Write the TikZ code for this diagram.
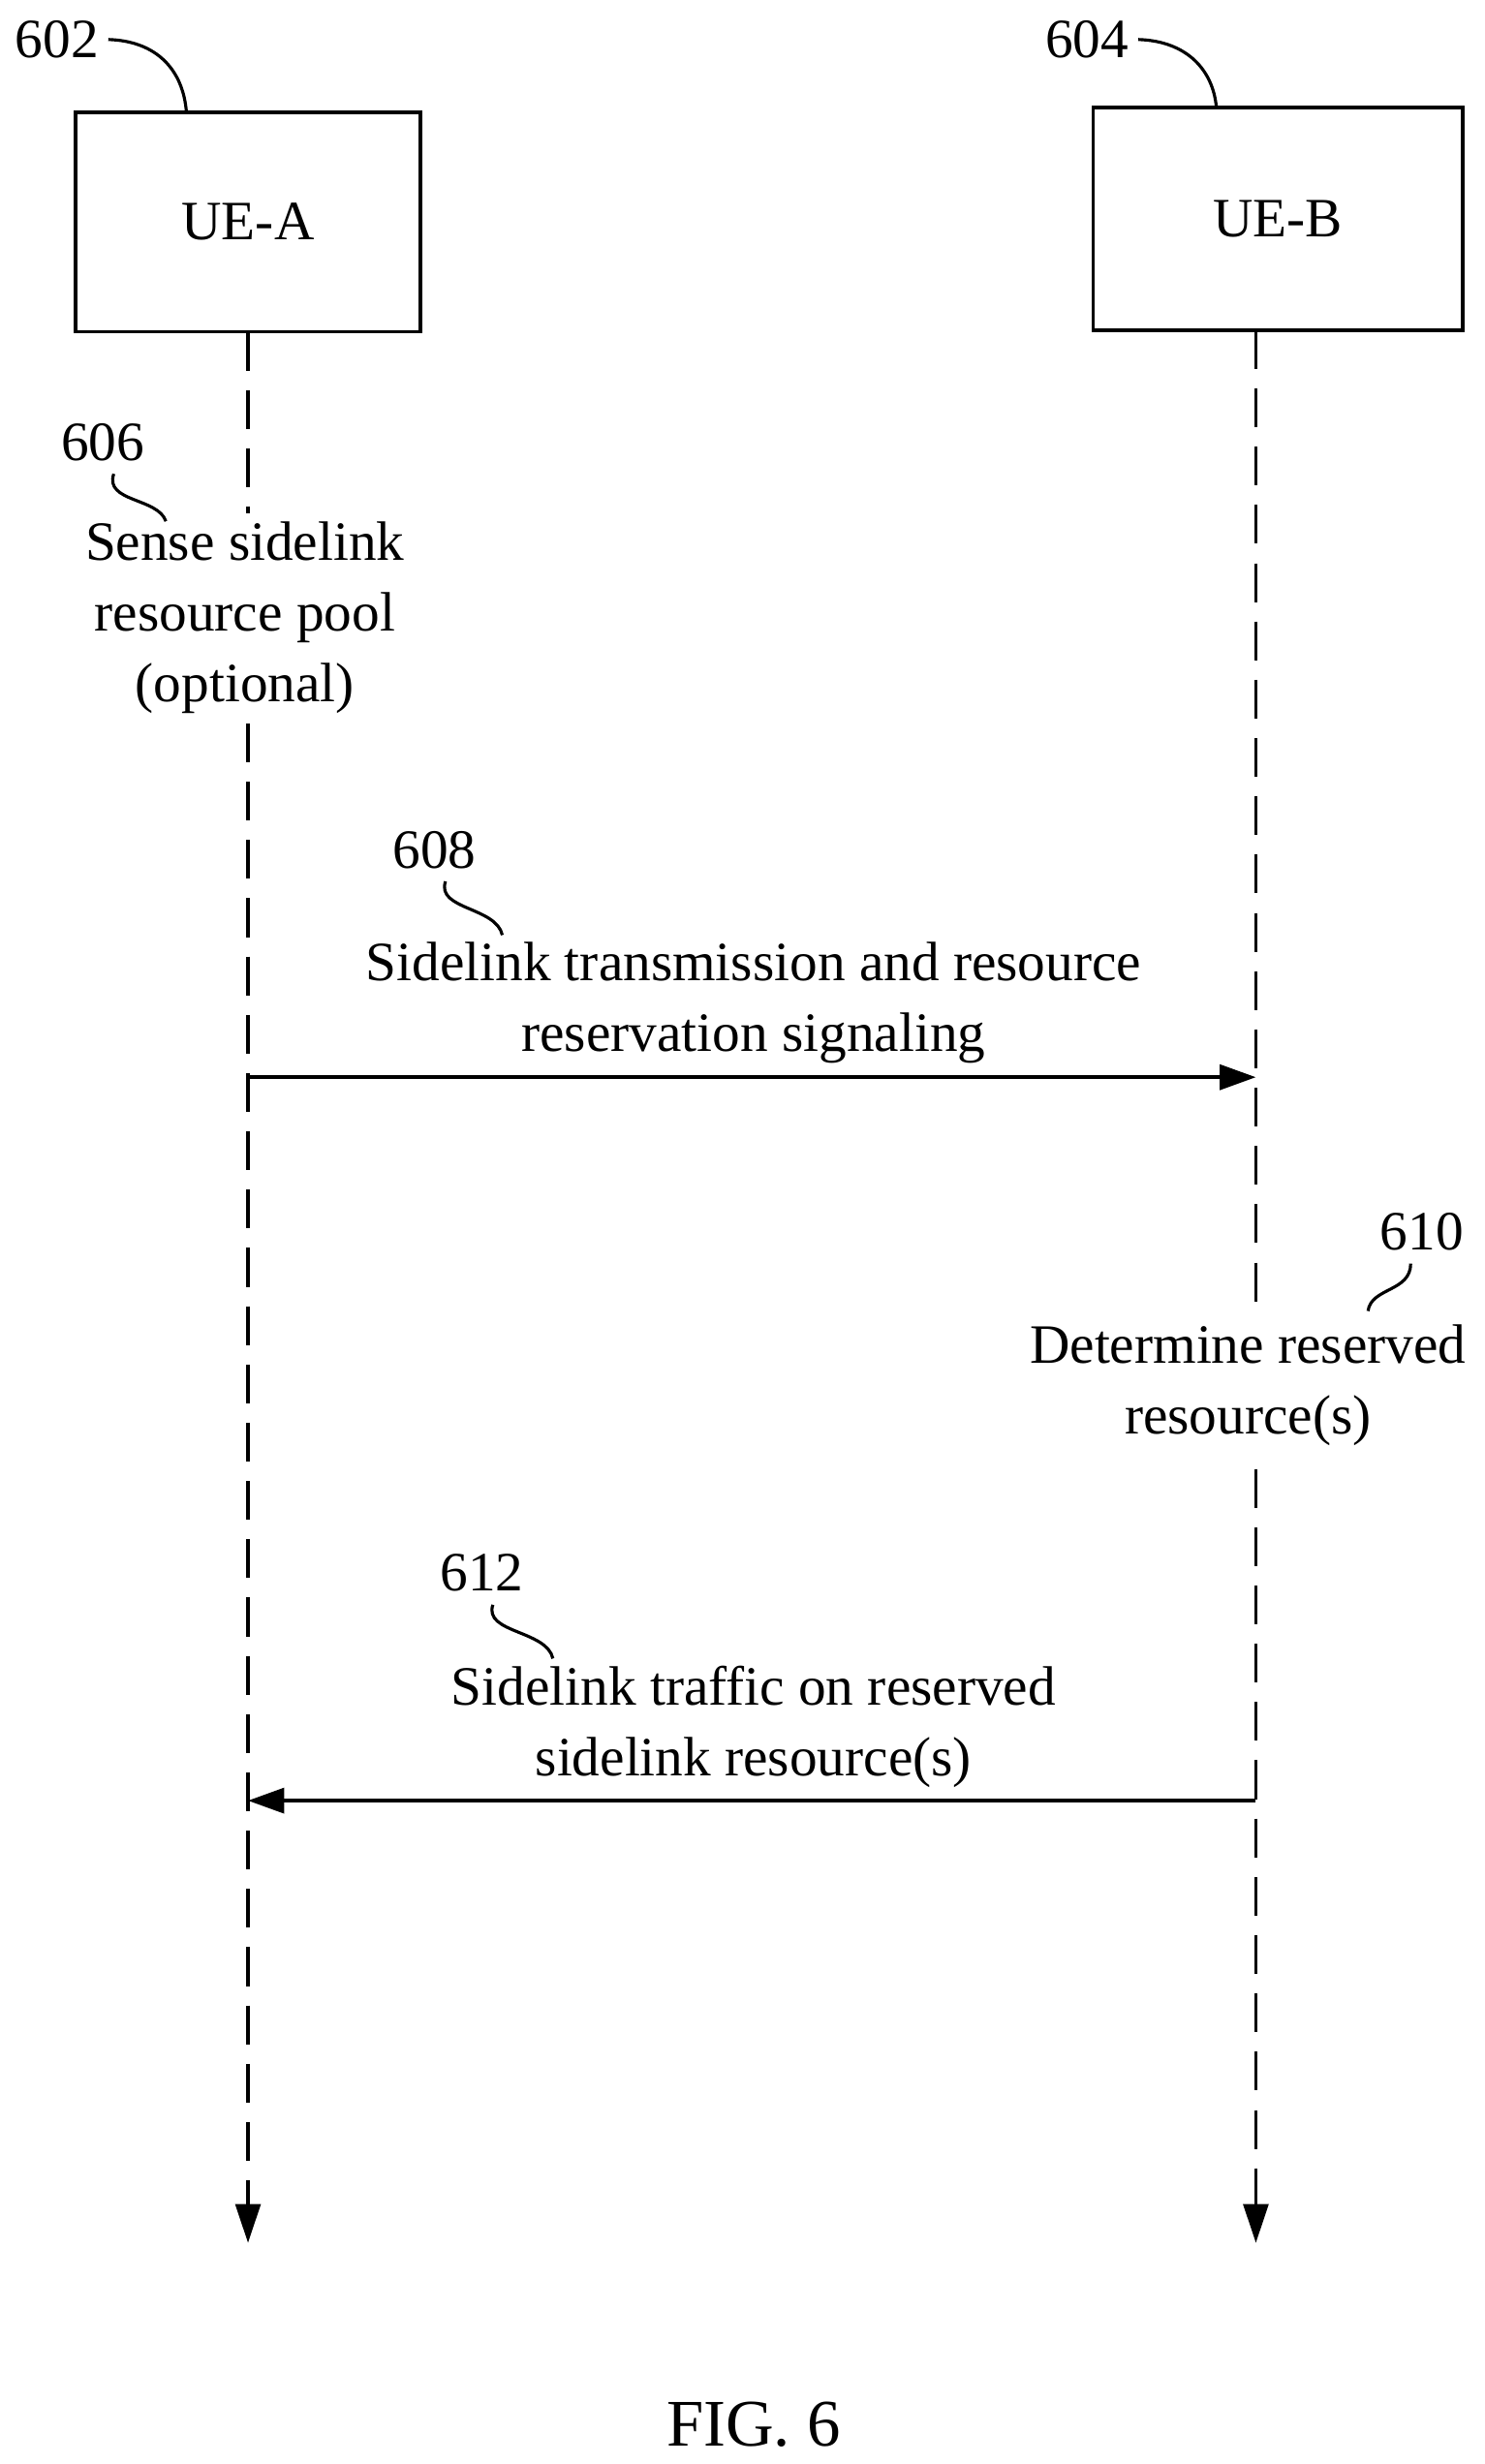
\documentclass[tikz,border=0pt]{standalone}
\usepackage{fontspec}
\setmainfont{Liberation Serif}
\usetikzlibrary{arrows.meta,positioning}
\begin{document}
\begin{tikzpicture}[x=0.02cm,y=-0.02cm,font=\fontsize{20}{25.5}\selectfont]
    \tikzset{ue/.style = {rectangle, draw=black, line width=1.3pt, inner sep=0pt},
             life/.style = {dashed, dash pattern=on 14pt off 7pt, line width=1.2pt},
             msg/.style = {line width=1.3pt, -{Triangle[length=13pt,width=9pt]}},
             lead/.style = {line width=1.1pt},
             txt/.style = {align=center, inner sep=1pt}}
    \useasboundingbox (0,0) rectangle (940,1560);

    \node (uea) [ue, minimum width=218*0.02cm, minimum height=139*0.02cm] at (157,140.5) {UE-A};
    \node (ueb) [ue, minimum width=234*0.02cm, minimum height=141*0.02cm] at (809,138.5) {UE-B};
    \node (l602) at (36,25) {602};
    \node (l604) at (688,25) {604};
    \draw[lead] (l602.east) .. controls (100,26) and (116,45) .. (118,71);
    \draw[lead] (l604.east) .. controls (752,26) and (768,45) .. (770,68);

    % lifelines
    \node (sense) [txt] at (155,391) {Sense sidelink\\resource pool\\(optional)};
    \node (det) [txt] at (790,877) {Determine reserved\\resource(s)};
    \coordinate (aend) at (157,1420);
    \coordinate (bend) at (795,1420);
    \draw[life] (157,210) -- (157,325);
    \draw[life, -{Triangle[length=14pt,width=9pt]}] (157,458) -- (aend);
    \draw[life] (795,209) -- (795,830);
    \draw[life, -{Triangle[length=14pt,width=9pt]}] (795,930) -- (bend);

    \node (l606) at (65,280) {606};
    \draw[lead] (72,300) .. controls (66,318) and (100,315) .. (105,330);
    \node (l610) at (900,780) {610};
    \draw[lead] (893,800) .. controls (893,818) and (868,815) .. (866,830);

    % messages
    \coordinate (a1) at (157,682);
    \coordinate (b1) at (795,682);
    \draw[msg] (a1) -- (b1);
    \node (m608) [txt] at (477,635) {Sidelink transmission and resource\\reservation signaling};
    \node (l608) at (275,538) {608};
    \draw[lead] (282,558) .. controls (276,576) and (314,574) .. (318,592);

    \coordinate (b2) at (795,1140);
    \coordinate (a2) at (157,1140);
    \draw[msg] (b2) -- (a2);
    \node (m612) [txt] at (477,1093) {Sidelink traffic on reserved\\sidelink resource(s)};
    \node (l612) at (305,996) {612};
    \draw[lead] (312,1016) .. controls (306,1034) and (346,1032) .. (350,1050);

    \node (fig) [font=\fontsize{24}{28}\selectfont] at (477,1535) {FIG. 6};
\end{tikzpicture}
\end{document}
